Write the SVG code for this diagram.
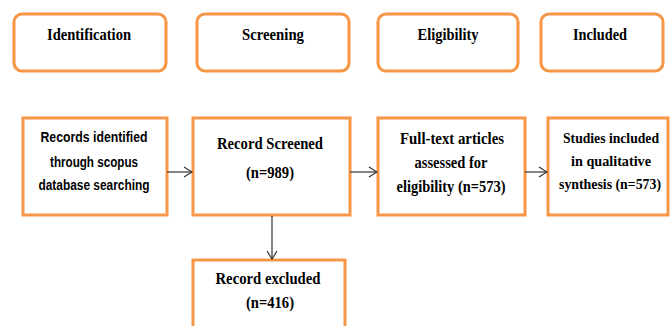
<svg xmlns="http://www.w3.org/2000/svg" width="670" height="326" viewBox="0 0 670 326">
<defs>
<style>
.hdr{fill:#fff;stroke:#F79646;stroke-width:3}
.box{fill:#fff;stroke:#F79646;stroke-width:3}
.t{font-family:"Liberation Serif","Times New Roman",serif;font-weight:bold;font-size:16.5px;fill:#000;text-anchor:middle}
.n{font-size:14.5px}
.s{font-family:"Liberation Sans",Arial,sans-serif;font-weight:bold;font-size:14px;fill:#000;text-anchor:middle}
.c{stroke:#333;stroke-width:1.2;fill:none}
</style>
<marker id="ah" markerWidth="10" markerHeight="12" refX="9" refY="6" orient="auto" markerUnits="userSpaceOnUse">
<path d="M1,1 L9,6 L1,11" fill="none" stroke="#333" stroke-width="1.2"/>
</marker>
</defs>
<rect width="670" height="326" fill="#fff"/>
<g id="identification">
<rect class="hdr" x="14" y="14" width="152" height="57" rx="8"/>
<text class="t" x="89" y="40" textLength="84" lengthAdjust="spacingAndGlyphs">Identification</text>
</g>
<g id="screening">
<rect class="hdr" x="197" y="14" width="152" height="57" rx="8"/>
<text class="t" x="273" y="40" textLength="62" lengthAdjust="spacingAndGlyphs">Screening</text>
</g>
<g id="eligibility">
<rect class="hdr" x="378" y="14" width="140" height="57" rx="8"/>
<text class="t" x="448" y="40" textLength="61" lengthAdjust="spacingAndGlyphs">Eligibility</text>
</g>
<g id="included">
<rect class="hdr" x="541" y="14" width="122" height="57" rx="8"/>
<text class="t" x="600" y="40" textLength="54" lengthAdjust="spacingAndGlyphs">Included</text>
</g>
<g id="records-identified">
<rect class="box" x="23" y="118" width="144" height="97"/>
<text class="s" x="94" y="142" textLength="107" lengthAdjust="spacingAndGlyphs">Records identified</text>
<text class="s" x="94" y="167" textLength="88" lengthAdjust="spacingAndGlyphs">through scopus</text>
<text class="s" x="94" y="190" textLength="111" lengthAdjust="spacingAndGlyphs">database searching</text>
</g>
<g id="record-screened">
<rect class="box" x="193" y="118" width="157" height="97"/>
<text class="t" x="270" y="149" textLength="106" lengthAdjust="spacingAndGlyphs">Record Screened</text>
<text class="t" x="270" y="178" textLength="48" lengthAdjust="spacingAndGlyphs">(n=989)</text>
</g>
<g id="full-text">
<rect class="box" x="378" y="118" width="147" height="97"/>
<text class="t" x="452" y="144" textLength="104" lengthAdjust="spacingAndGlyphs">Full-text articles</text>
<text class="t" x="451" y="168" textLength="73" lengthAdjust="spacingAndGlyphs">assessed for</text>
<text class="t" x="451" y="192" textLength="109" lengthAdjust="spacingAndGlyphs">eligibility (n=573)</text>
</g>
<g id="studies-included">
<rect class="box" x="548" y="118" width="120" height="97"/>
<text class="t n" x="611" y="143" textLength="96" lengthAdjust="spacingAndGlyphs">Studies included</text>
<text class="t n" x="611" y="166" textLength="80" lengthAdjust="spacingAndGlyphs">in qualitative</text>
<text class="t n" x="610" y="189" textLength="102" lengthAdjust="spacingAndGlyphs">synthesis (n=573)</text>
</g>
<g id="record-excluded">
<rect class="box" x="193" y="260" width="152" height="80"/>
<text class="t" x="268" y="284" textLength="105" lengthAdjust="spacingAndGlyphs">Record excluded</text>
<text class="t" x="270" y="308" textLength="48" lengthAdjust="spacingAndGlyphs">(n=416)</text>
</g>
<g id="connectors">
<line class="c" x1="167" y1="172" x2="192" y2="172" marker-end="url(#ah)"/>
<line class="c" x1="350" y1="172" x2="377" y2="172" marker-end="url(#ah)"/>
<line class="c" x1="525" y1="172" x2="547" y2="172" marker-end="url(#ah)"/>
<line class="c" x1="272" y1="216" x2="272" y2="259" marker-end="url(#ah)"/>
</g>
</svg>
